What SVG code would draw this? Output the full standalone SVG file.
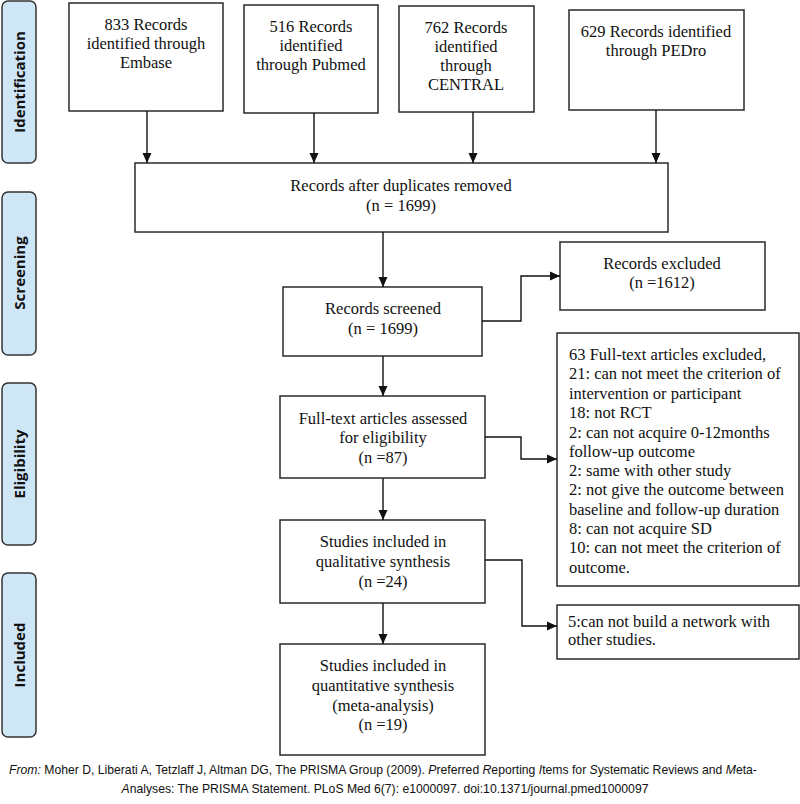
<svg xmlns="http://www.w3.org/2000/svg" width="800" height="804" viewBox="0 0 800 804">
<style>
.box{fill:#fff;stroke:#2a2a2a;stroke-width:1.5}
.side{fill:#cfe6f7;stroke:#333;stroke-width:1.5}
.st{font-family:"Open Sans","DejaVu Sans",sans-serif;font-weight:bold;font-size:15px;fill:#111;text-anchor:middle}
.t{font-family:"Liberation Serif","Times New Roman",serif;font-size:16.5px;fill:#111;text-anchor:middle}
.tl{font-family:"Liberation Serif","Times New Roman",serif;font-size:16.5px;fill:#111}
.ft{font-family:"Liberation Sans",Arial,sans-serif;font-size:12.2px;fill:#111;text-anchor:middle}
.c{fill:none;stroke:#111;stroke-width:1.4}
</style>
<defs>
<marker id="ah" viewBox="0 0 10 10" refX="10" refY="5" markerWidth="10" markerHeight="10" markerUnits="userSpaceOnUse" orient="auto">
<path d="M0,0.5 L10,5 L0,9.5 Z" fill="#111"/>
</marker>
</defs>
<rect width="800" height="804" fill="#fff"/>

<g id="phase-identification"><rect class="side" x="2" y="1" width="34" height="162" rx="6"/><text class="st" transform="translate(24.5,82) rotate(-90)">Identification</text></g>
<g id="phase-screening"><rect class="side" x="2" y="192" width="34" height="163" rx="6"/><text class="st" transform="translate(24.5,273) rotate(-90)">Screening</text></g>
<g id="phase-eligibility"><rect class="side" x="2" y="383" width="34" height="162" rx="6"/><text class="st" transform="translate(24.5,464) rotate(-90)">Eligibility</text></g>
<g id="phase-included"><rect class="side" x="2" y="573" width="34" height="164" rx="6"/><text class="st" transform="translate(24.5,655) rotate(-90)">Included</text></g>

<g id="embase"><rect class="box" x="69" y="3" width="154" height="108"/>
<text class="t" x="146" y="30">833 Records</text><text class="t" x="146" y="49">identified through</text><text class="t" x="146" y="68">Embase</text></g>
<g id="pubmed"><rect class="box" x="244" y="5" width="134" height="108"/>
<text class="t" x="311" y="32">516 Records</text><text class="t" x="311" y="51">identified</text><text class="t" x="311" y="70">through Pubmed</text></g>
<g id="central"><rect class="box" x="399" y="6" width="135" height="106"/>
<text class="t" x="466" y="33">762 Records</text><text class="t" x="466" y="52">identified</text><text class="t" x="466" y="71">through</text><text class="t" x="466" y="90">CENTRAL</text></g>
<g id="pedro"><rect class="box" x="569" y="10" width="175" height="100"/>
<text class="t" x="656" y="37">629 Records identified</text><text class="t" x="656" y="56">through PEDro</text></g>

<g id="duplicates"><rect class="box" x="135" y="163" width="533" height="69"/>
<text class="t" x="401" y="191">Records after duplicates removed</text><text class="t" x="401" y="211">(n = 1699)</text></g>

<g id="screened"><rect class="box" x="283" y="287" width="199" height="69"/>
<text class="t" x="383" y="314">Records screened</text><text class="t" x="383" y="334">(n = 1699)</text></g>

<g id="excluded"><rect class="box" x="560" y="242" width="205" height="68"/>
<text class="t" x="662" y="269">Records excluded</text><text class="t" x="662" y="288">(n =1612)</text></g>

<g id="fulltext"><rect class="box" x="280" y="396" width="205" height="82"/>
<text class="t" x="383" y="424">Full-text articles assessed</text><text class="t" x="383" y="443">for eligibility</text><text class="t" x="383" y="463">(n =87)</text></g>

<g id="fulltext-excluded"><rect class="box" x="557" y="333" width="242" height="253"/>
<text class="tl" x="569" y="360">63 Full-text articles excluded,</text>
<text class="tl" x="569" y="379">21: can not meet the criterion of</text>
<text class="tl" x="569" y="399">intervention or participant</text>
<text class="tl" x="569" y="418">18: not RCT</text>
<text class="tl" x="569" y="438">2: can not acquire 0-12months</text>
<text class="tl" x="569" y="457">follow-up outcome</text>
<text class="tl" x="569" y="476">2: same with other study</text>
<text class="tl" x="569" y="495">2: not give the outcome between</text>
<text class="tl" x="569" y="515">baseline and follow-up duration</text>
<text class="tl" x="569" y="534">8: can not acquire SD</text>
<text class="tl" x="569" y="553">10: can not meet the criterion of</text>
<text class="tl" x="569" y="573">outcome.</text></g>

<g id="qualitative"><rect class="box" x="280" y="520" width="205" height="83"/>
<text class="t" x="383" y="547">Studies included in</text><text class="t" x="383" y="567">qualitative synthesis</text><text class="t" x="383" y="587">(n =24)</text></g>

<g id="network-excluded"><rect class="box" x="557" y="605" width="242" height="54"/>
<text class="tl" x="568" y="627">5:can not build a network with</text><text class="tl" x="568" y="645">other studies.</text></g>

<g id="quantitative"><rect class="box" x="280" y="644" width="205" height="111"/>
<text class="t" x="383" y="671">Studies included in</text><text class="t" x="383" y="691">quantitative synthesis</text><text class="t" x="383" y="711">(meta-analysis)</text><text class="t" x="383" y="730">(n =19)</text></g>

<g id="connectors">
<line class="c" x1="147" y1="111" x2="147" y2="163" marker-end="url(#ah)"/>
<line class="c" x1="314" y1="113" x2="314" y2="163" marker-end="url(#ah)"/>
<line class="c" x1="473" y1="112" x2="473" y2="163" marker-end="url(#ah)"/>
<line class="c" x1="656" y1="110" x2="656" y2="163" marker-end="url(#ah)"/>
<line class="c" x1="383" y1="232" x2="383" y2="287" marker-end="url(#ah)"/>
<polyline class="c" points="482,321 521,321 521,276 560,276" marker-end="url(#ah)"/>
<line class="c" x1="383" y1="356" x2="383" y2="396" marker-end="url(#ah)"/>
<polyline class="c" points="485,437 521,437 521,459 557,459" marker-end="url(#ah)"/>
<line class="c" x1="383" y1="478" x2="383" y2="520" marker-end="url(#ah)"/>
<polyline class="c" points="485,560 522,560 522,626 557,626" marker-end="url(#ah)"/>
<line class="c" x1="383" y1="603" x2="383" y2="644" marker-end="url(#ah)"/>
</g>

<g id="footer">
<text class="ft" x="383" y="774"><tspan font-style="italic">From:</tspan>  Moher D, Liberati A, Tetzlaff J, Altman DG, The PRISMA Group (2009). <tspan font-style="italic">P</tspan>referred <tspan font-style="italic">R</tspan>eporting <tspan font-style="italic">I</tspan>tems for <tspan font-style="italic">S</tspan>ystematic Reviews and <tspan font-style="italic">M</tspan>eta-</text>
<text class="ft" x="385" y="793"><tspan font-style="italic">A</tspan>nalyses: The PRISMA Statement. PLoS Med 6(7): e1000097. doi:10.1371/journal.pmed1000097</text>
</g>
</svg>
